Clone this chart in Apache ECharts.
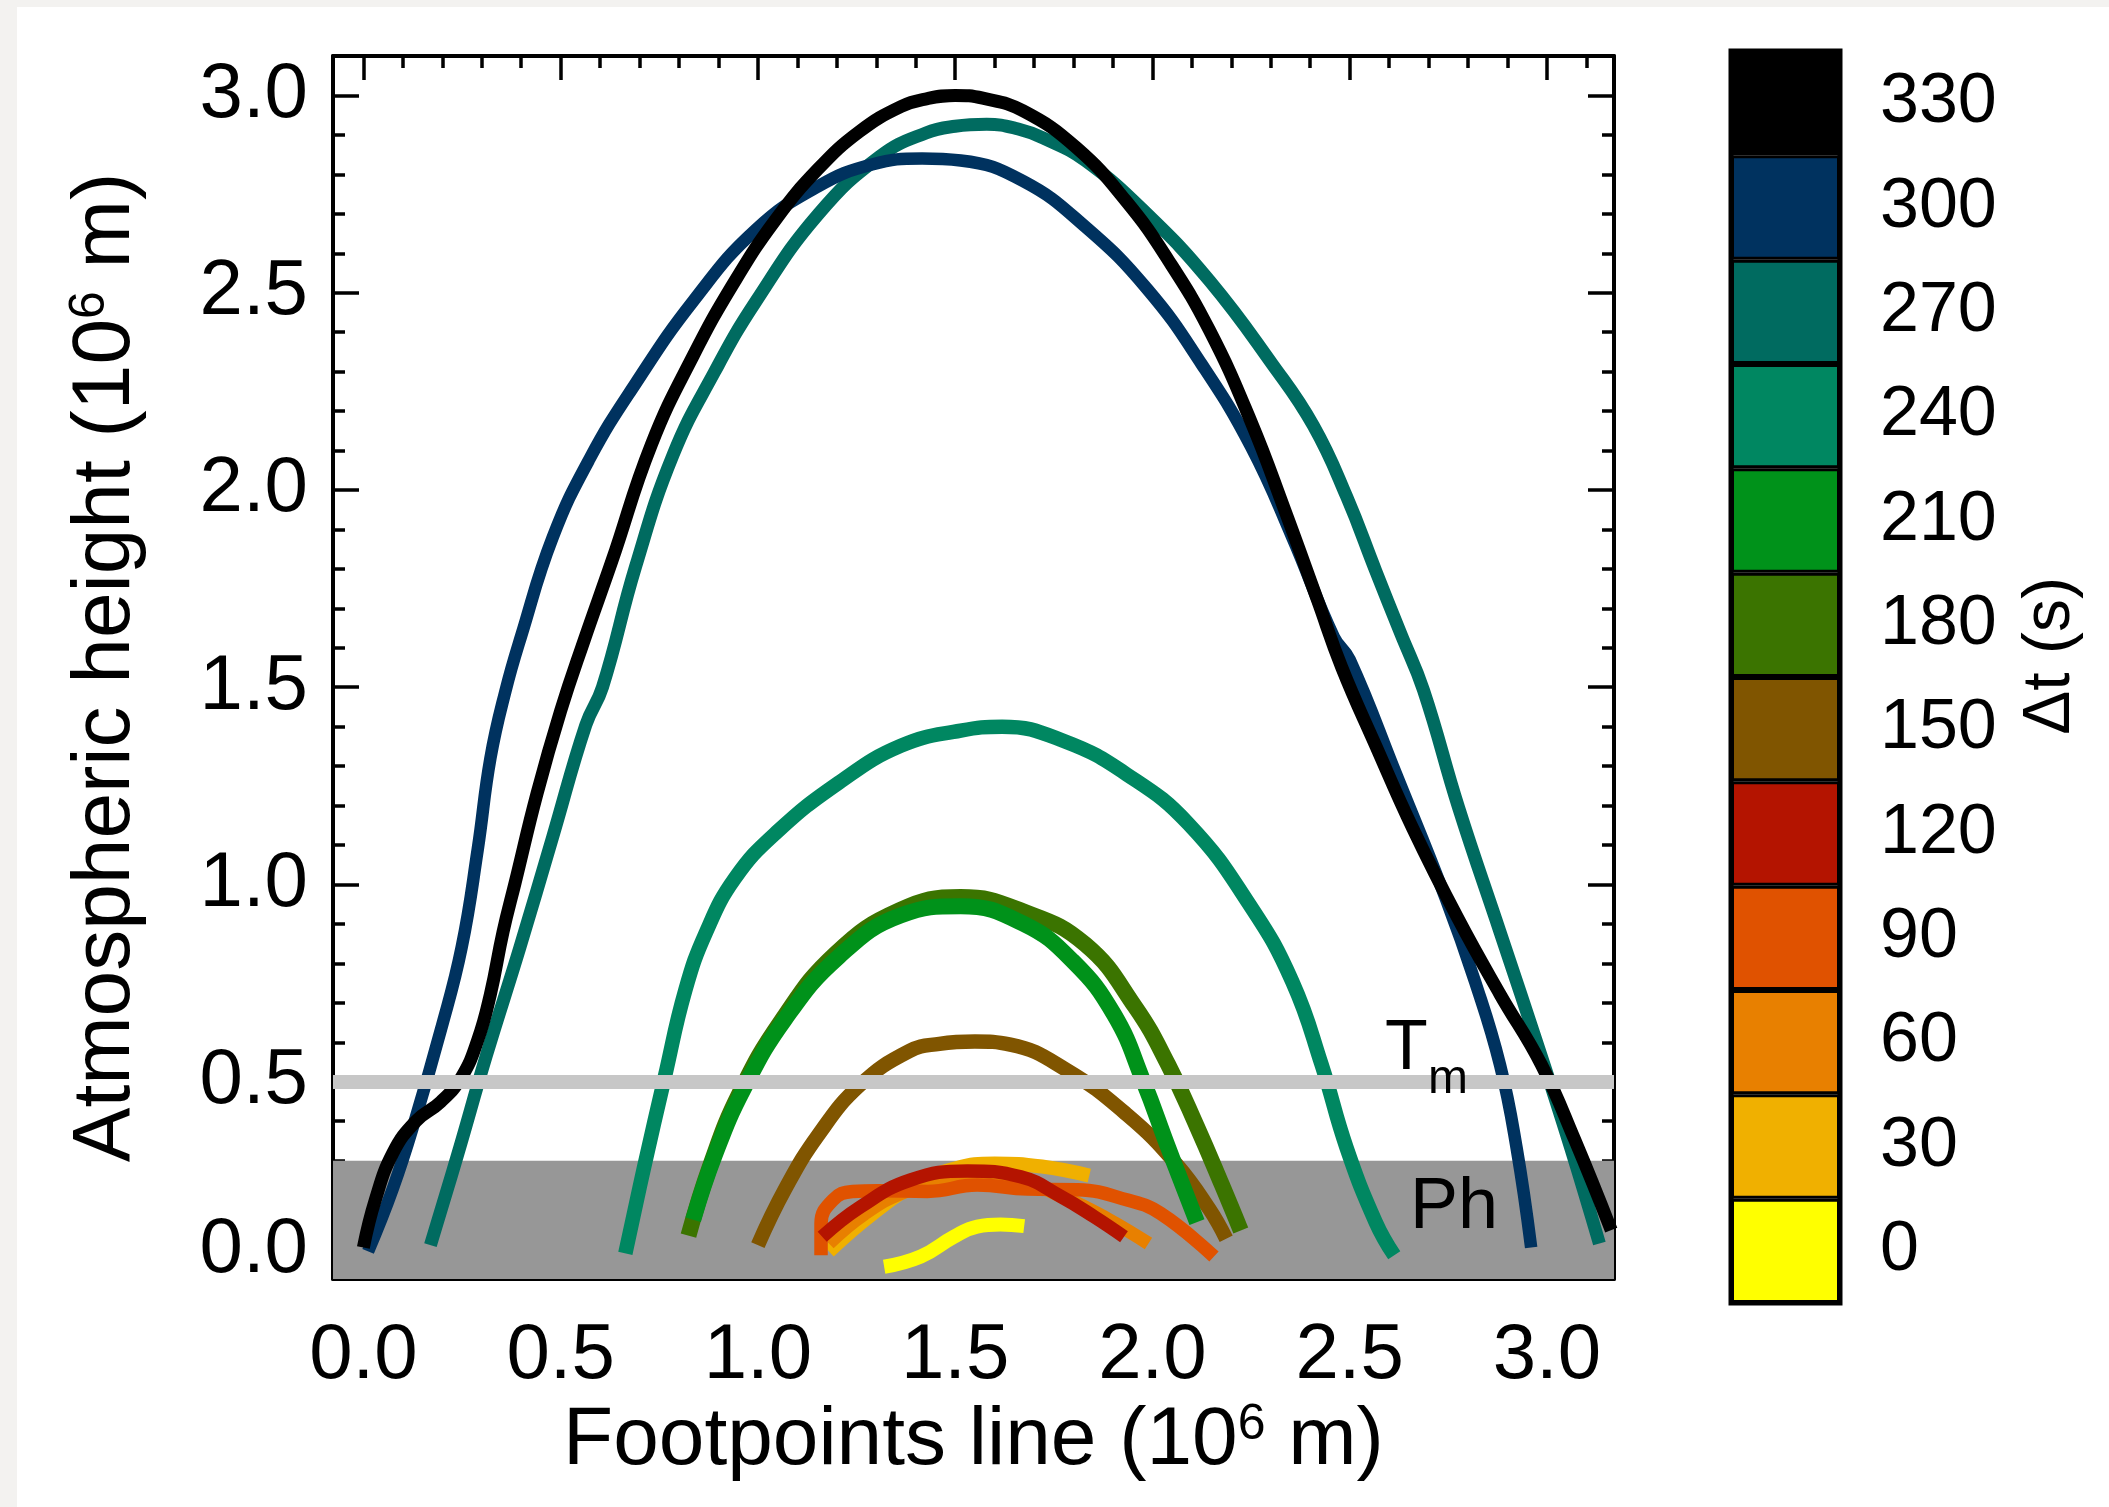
<!DOCTYPE html>
<html>
<head>
<meta charset="utf-8">
<script src="https://cdn.jsdelivr.net/npm/echarts@6/dist/echarts.min.js"></script>
<style>
  html, body { margin: 0; padding: 0; background: #ffffff; }
  #container { width: 2109px; height: 1507px; }
</style>
</head>
<body>
<div id="container"></div>
<script>
// axis ranges (10^6 m)
var X_MIN = -0.077, X_MAX = 3.17;
var Y_MIN = 0, Y_MAX = 3.1;

// tick values
var xMajorTicks = [0, 0.5, 1.0, 1.5, 2.0, 2.5, 3.0];
var xMinorTicks = [0.1, 0.2, 0.3, 0.4, 0.6, 0.7, 0.8, 0.9, 1.1, 1.2, 1.3, 1.4, 1.6, 1.7, 1.8, 1.9,
                   2.1, 2.2, 2.3, 2.4, 2.6, 2.7, 2.8, 2.9, 3.1];
var yMajorTicks = [0, 0.5, 1.0, 1.5, 2.0, 2.5, 3.0];
var yMinorTicks = [0.1, 0.2, 0.3, 0.4, 0.6, 0.7, 0.8, 0.9, 1.1, 1.2, 1.3, 1.4, 1.6, 1.7, 1.8, 1.9,
                   2.1, 2.2, 2.3, 2.4, 2.6, 2.7, 2.8, 2.9];

// layers
var phTop = 0.3;      // photosphere band
var tmLevel = 0.5;    // temperature minimum

// colour bar (delta t, s)
var dtLabels = ['0', '30', '60', '90', '120', '150', '180', '210', '240', '270', '300', '330'];
var dtColors = ['#ffff00', '#f0b000', '#e88000', '#e05200', '#b41400', '#805500',
                '#3b7400', '#00921a', '#008761', '#006b60', '#00325f', '#000000'];
var dtUnits = [1, 1, 1, 1, 1, 1, 1, 1, 1, 1, 1, 1];

// loops: [footpoint line, height]
var loop0 = [[1.32, 0.031], [1.413, 0.057], [1.497, 0.107], [1.556, 0.133], [1.615, 0.138], [1.675, 0.134]];
var loop30 = [[1.18, 0.07], [1.29, 0.165], [1.40, 0.24], [1.50, 0.28], [1.60, 0.293], [1.72, 0.285], [1.84, 0.262]];
var loop60 = [[1.18, 0.09], [1.27, 0.165], [1.37, 0.22], [1.50, 0.255], [1.65, 0.25], [1.78, 0.205], [1.89, 0.15], [1.99, 0.09]];
var loop90 = [[1.16, 0.06], [1.16, 0.14], [1.19, 0.20], [1.24, 0.222], [1.303, 0.224], [1.43, 0.222], [1.556, 0.238],
              [1.683, 0.228], [1.81, 0.226], [1.937, 0.20], [2.021, 0.166], [2.156, 0.057]];
var loop120 = [[1.163, 0.107], [1.26, 0.183], [1.387, 0.251], [1.531, 0.274], [1.666, 0.259], [1.768, 0.209],
               [1.852, 0.158], [1.928, 0.107]];
var loop150 = [[1.0, 0.086], [1.069, 0.228], [1.153, 0.365], [1.258, 0.491], [1.384, 0.578], [1.46, 0.596],
               [1.55, 0.602], [1.64, 0.594], [1.777, 0.533], [1.935, 0.417], [2.061, 0.291], [2.145, 0.176], [2.187, 0.102]];
var loop180 = [[0.824, 0.11], [0.88, 0.29], [0.953, 0.47], [1.06, 0.655], [1.197, 0.825], [1.36, 0.935], [1.514, 0.968],
               [1.672, 0.932], [1.83, 0.848], [1.956, 0.69], [2.04, 0.543], [2.113, 0.386], [2.176, 0.239], [2.224, 0.123]];
var loop210 = [[0.836, 0.15], [0.89, 0.312], [0.963, 0.48], [1.069, 0.659], [1.205, 0.817], [1.363, 0.922],
               [1.514, 0.945], [1.672, 0.901], [1.798, 0.806], [1.903, 0.67], [1.977, 0.501], [2.04, 0.333], [2.113, 0.144]];
var loop240 = [[0.664, 0.065], [0.711, 0.281], [0.764, 0.512], [0.816, 0.732], [0.869, 0.88], [0.942, 1.016],
               [1.047, 1.132], [1.205, 1.258], [1.363, 1.352], [1.514, 1.39], [1.619, 1.40], [1.777, 1.363],
               [1.935, 1.279], [2.092, 1.153], [2.25, 0.943], [2.355, 0.753], [2.429, 0.543], [2.492, 0.333],
               [2.566, 0.144], [2.613, 0.06]];
var loop270 = [[0.17, 0.086], [0.238, 0.312], [0.311, 0.564], [0.396, 0.838], [0.48, 1.121], [0.564, 1.405],
               [0.606, 1.50], [0.69, 1.806], [0.785, 2.089], [0.89, 2.299], [0.995, 2.478], [1.153, 2.699],
               [1.31, 2.846], [1.426, 2.905], [1.50, 2.922], [1.58, 2.927], [1.66, 2.915], [1.724, 2.892], [1.83, 2.835],
               [1.987, 2.699], [2.145, 2.53], [2.303, 2.32], [2.408, 2.163], [2.492, 1.984], [2.566, 1.795],
               [2.629, 1.637], [2.687, 1.493], [2.776, 1.195], [2.881, 0.88], [2.986, 0.564], [3.06, 0.333], [3.133, 0.09]];
var loop300 = [[0.012, 0.07], [0.075, 0.23], [0.133, 0.41], [0.196, 0.63], [0.249, 0.84], [0.29, 1.09],
               [0.322, 1.32], [0.36, 1.49], [0.40, 1.63], [0.48, 1.88], [0.574, 2.08], [0.69, 2.27], [0.837, 2.48],
               [0.995, 2.66], [1.153, 2.77], [1.289, 2.825], [1.416, 2.84], [1.514, 2.835], [1.672, 2.783],
               [1.83, 2.667], [1.987, 2.509], [2.124, 2.32], [2.25, 2.11], [2.355, 1.879], [2.46, 1.627],
               [2.50, 1.57], [2.618, 1.279], [2.744, 0.963], [2.818, 0.753], [2.881, 0.543], [2.923, 0.333], [2.96, 0.08]];
var loop330 = [[0.0, 0.08], [0.03, 0.20], [0.075, 0.32], [0.133, 0.40], [0.196, 0.449], [0.249, 0.512],
               [0.29, 0.606], [0.322, 0.722], [0.354, 0.88], [0.385, 1.006], [0.44, 1.23], [0.50, 1.44],
               [0.56, 1.62], [0.63, 1.82], [0.73, 2.115], [0.837, 2.342], [0.942, 2.53], [1.047, 2.688],
               [1.153, 2.814], [1.258, 2.909], [1.363, 2.972], [1.43, 2.992], [1.50, 3.0], [1.57, 2.993],
               [1.672, 2.961], [1.808, 2.867], [1.935, 2.73], [2.04, 2.583], [2.145, 2.404], [2.25, 2.173],
               [2.334, 1.953], [2.418, 1.722], [2.48, 1.55], [2.566, 1.352], [2.66, 1.142], [2.776, 0.911],
               [2.881, 0.722], [2.986, 0.543], [3.07, 0.354], [3.163, 0.124]];

var FONT = 'Liberation Sans';
var chart;

init();

function init() {
    var container = document.getElementById('container');
    chart = echarts.init(container, null, {renderer: 'canvas'});
    chart.setOption(buildOption());
}

// one frame side of the main plot; majors carry the line and labels
function frameAxis(dim, pos, ticks, tickLen, main, label) {
    var ax = {
        type: 'value',
        gridIndex: 0,
        position: pos,
        min: dim === 'x' ? X_MIN : Y_MIN,
        max: dim === 'x' ? X_MAX : Y_MAX,
        splitLine: {show: false},
        axisLine: {show: main, onZero: false, lineStyle: {color: '#000', width: 4}},
        axisTick: {show: true, inside: true, length: tickLen, customValues: ticks,
                   lineStyle: {color: '#000', width: 3.5}},
        axisLabel: {show: false}
    };
    if (label) {
        ax.axisLabel = {
            show: true,
            customValues: ticks,
            fontSize: 78,
            fontFamily: FONT,
            color: '#000',
            margin: dim === 'x' ? 38 : 25,
            formatter: function (v) {
                if (dim === 'y' && v === 0) return '{z|0.0}';
                return v.toFixed(1);
            },
            rich: {
                z: {fontSize: 78, fontFamily: FONT, color: '#000', padding: [0, 0, 58, 0]}
            }
        };
    }
    return ax;
}

function loop(name, data, color, width) {
    return {
        name: name,
        type: 'line',
        xAxisIndex: 0,
        yAxisIndex: 0,
        data: data,
        symbol: 'none',
        smooth: 0.45,
        silent: true,
        lineStyle: {color: color, width: width, cap: 'butt', join: 'round'}
    };
}

function buildOption() {
    var titleRich = {
        a: {fontSize: 82, fontFamily: FONT, color: '#000', lineHeight: 82},
        s: {fontSize: 50, fontFamily: FONT, color: '#000', lineHeight: 36, verticalAlign: 'top'}
    };

    var xAxes = [
        frameAxis('x', 'bottom', xMajorTicks, 24, true, true),
        frameAxis('x', 'bottom', xMinorTicks, 12, false, false),
        frameAxis('x', 'top', xMajorTicks, 24, true, false),
        frameAxis('x', 'top', xMinorTicks, 12, false, false),
        {type: 'value', gridIndex: 1, min: 0, max: 1, show: false}
    ];
    xAxes[0].name = '{a|Footpoints line (10}{s|6}{a| m)}';
    xAxes[0].nameLocation = 'middle';
    xAxes[0].nameGap = 117;
    xAxes[0].nameTextStyle = {rich: titleRich};

    var yAxes = [
        frameAxis('y', 'left', yMajorTicks, 26, true, true),
        frameAxis('y', 'left', yMinorTicks, 12, false, false),
        frameAxis('y', 'right', yMajorTicks, 26, true, false),
        frameAxis('y', 'right', yMinorTicks, 12, false, false),
        {
            type: 'category', gridIndex: 1, position: 'right', data: dtLabels,
            axisLine: {show: false}, axisTick: {show: false}, splitLine: {show: false},
            axisLabel: {fontSize: 70, fontFamily: FONT, color: '#000', margin: 40, padding: [10, 0, 0, 0]}
        }
    ];
    yAxes[0].name = '{a|Atmospheric height (10}{s|6}{a| m)}';
    yAxes[0].nameLocation = 'middle';
    yAxes[0].nameRotate = 90;
    yAxes[0].nameGap = 186;
    yAxes[0].nameTextStyle = {rich: titleRich};

    var bands = {
        type: 'line',
        xAxisIndex: 0,
        yAxisIndex: 0,
        data: [],
        silent: true,
        markArea: {
            silent: true,
            itemStyle: {color: '#979797'},
            data: [[{xAxis: X_MIN, yAxis: 0}, {xAxis: X_MAX, yAxis: phTop}]]
        },
        markLine: {
            silent: true,
            symbol: ['none', 'none'],
            label: {show: false},
            lineStyle: {color: '#c7c7c7', width: 14, type: 'solid'},
            data: [{yAxis: tmLevel}]
        }
    };

    var colorBar = {
        type: 'bar',
        xAxisIndex: 4,
        yAxisIndex: 4,
        barWidth: '100%',
        silent: true,
        data: dtUnits.map(function (u, i) {
            return {value: u, itemStyle: {color: dtColors[i]}};
        }),
        itemStyle: {borderColor: '#000', borderWidth: 3}
    };

    return {
        backgroundColor: '#ffffff',
        animation: false,
        textStyle: {fontFamily: FONT},
        grid: [
            {left: 333, top: 56, width: 1281, height: 1223},
            {left: 1731, top: 51, width: 109, height: 1252, show: true,
             borderColor: '#000', borderWidth: 5, backgroundColor: 'transparent'}
        ],
        xAxis: xAxes,
        yAxis: yAxes,
        series: [
            bands,
            loop('0', loop0, dtColors[0], 14),
            loop('30', loop30, dtColors[1], 14),
            loop('60', loop60, dtColors[2], 13.5),
            loop('90', loop90, dtColors[3], 13.5),
            loop('120', loop120, dtColors[4], 13.5),
            loop('150', loop150, dtColors[5], 14.5),
            loop('180', loop180, dtColors[6], 16),
            loop('210', loop210, dtColors[7], 16),
            loop('240', loop240, dtColors[8], 14.5),
            loop('270', loop270, dtColors[9], 13),
            loop('300', loop300, dtColors[10], 12.5),
            loop('330', loop330, dtColors[11], 13),
            colorBar
        ],
        graphic: [
            {type: 'rect', left: 0, top: 0, z: 0, shape: {width: 17, height: 1507}, style: {fill: '#f3f2f0'}, silent: true},
            {type: 'rect', left: 0, top: 0, z: 0, shape: {width: 2109, height: 7}, style: {fill: '#f3f2f0'}, silent: true},
            {type: 'text', x: 2051, y: 656, z: 100, rotation: Math.PI / 2,
             style: {text: '\u0394t (s)', fontSize: 66, fontFamily: FONT, fill: '#000', align: 'center', verticalAlign: 'middle'}},
            {type: 'text', x: 1385, y: 1050, z: 100,
             style: {text: 'T', fontSize: 70, fontFamily: FONT, fill: '#000', align: 'left', verticalAlign: 'middle'}},
            {type: 'text', x: 1428, y: 1080, z: 100,
             style: {text: 'm', fontSize: 48, fontFamily: FONT, fill: '#000', align: 'left', verticalAlign: 'middle'}},
            {type: 'text', x: 1410, y: 1208, z: 100,
             style: {text: 'Ph', fontSize: 72, fontFamily: FONT, fill: '#000', align: 'left', verticalAlign: 'middle'}}
        ]
    };
}
</script>
</body>
</html>
